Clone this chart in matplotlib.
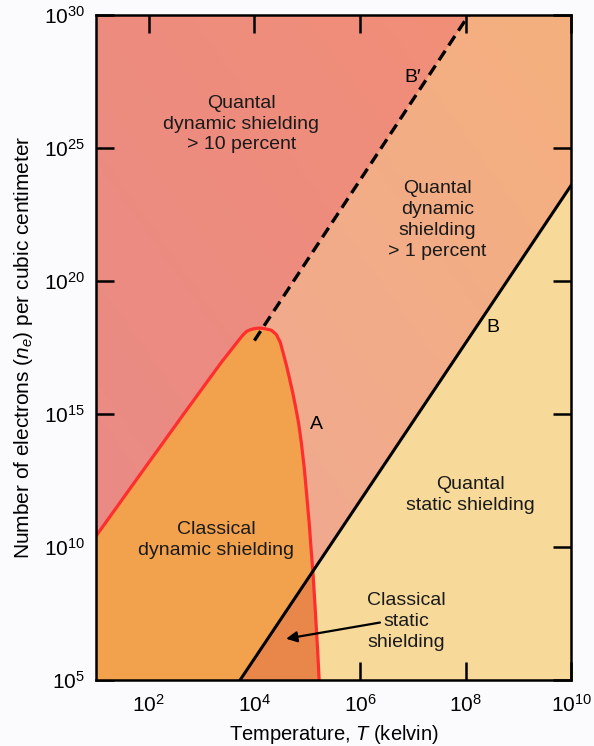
import matplotlib.pyplot as plt
import numpy as np
from matplotlib.patches import Polygon
from matplotlib.colors import to_rgb

# curve A (log10 T, log10 n_e)
a_logT = [1.0, 1.736, 2.679, 3.377, 3.698, 3.774, 3.849, 3.925, 4.0, 4.094, 4.189,
          4.321, 4.415, 4.491, 4.547, 4.604, 4.660, 4.726, 4.792, 4.840, 4.887,
          4.943, 4.991, 5.038, 5.075, 5.113, 5.142, 5.170, 5.198, 5.226]
a_logn = [10.41, 12.45, 15.05, 16.95, 17.76, 17.95, 18.10, 18.17, 18.21, 18.23, 18.21,
          18.15, 17.99, 17.69, 17.28, 16.85, 16.38, 15.80, 15.15, 14.62, 13.95,
          13.00, 11.95, 10.90, 9.90, 8.92, 7.99, 7.05, 6.12, 5.0]

# line B (solid) and B' (dashed), endpoints
b_T = [10**3.73, 1e10]
b_n = [1e5, 10**23.6]
bp_T = [10**4.0, 10**8.06]
bp_n = [10**17.76, 1e30]

xlim = (1e1, 1e10)
ylim = (1e5, 1e30)

YELLOW = '#F7D99A'
ORANGE = '#F2A24C'
DARK_OR = '#E9874A'
RED = '#FF2E2E'

plt.rcParams['font.family'] = ['Liberation Sans', 'DejaVu Sans']
plt.rcParams['mathtext.fontset'] = 'custom'
plt.rcParams['mathtext.rm'] = 'Liberation Sans'
plt.rcParams['mathtext.it'] = 'Liberation Sans:italic'

fig = plt.figure(figsize=(5.94, 7.46), dpi=100)
fig.patch.set_facecolor('#FBFBFD')
ax = fig.add_axes([0.1616, 0.0885, 0.8, 0.8914])
ax.set_xscale('log')
ax.set_yscale('log')
ax.set_xlim(*xlim)
ax.set_ylim(*ylim)


def gradient(c_top_right, c_bottom_left):
    u = np.linspace(0, 1, 200)
    xx, yy = np.meshgrid(u, u)
    t = ((xx + yy) / 2)[..., None]
    a, b = np.array(to_rgb(c_top_right)), np.array(to_rgb(c_bottom_left))
    return b + (a - b) * t


aT = 10**np.array(a_logT)
an = 10**np.array(a_logn)

# quantal dynamic > 1 percent: background with a soft gradient
ax.imshow(gradient('#F5B07E', '#EEA697'), extent=(0, 1, 0, 1), origin='lower',
          transform=ax.transAxes, aspect='auto', zorder=0.5, interpolation='bilinear')

# everything left of B' (extended down with the same slope) is salmon
slope = (np.log10(bp_n[1]) - np.log10(bp_n[0])) / (np.log10(bp_T[1]) - np.log10(bp_T[0]))
bp_bottom_T = 10**(np.log10(bp_T[0]) - (np.log10(bp_n[0]) - 5) / slope)
left_bp = Polygon([(xlim[0], ylim[0]), (xlim[0], ylim[1]), (bp_T[1], bp_n[1]),
                   (bp_bottom_T, ylim[0])], closed=True, transform=ax.transData)
sal = ax.imshow(gradient('#F28F76', '#E88A88'), extent=(0, 1, 0, 1), origin='lower',
                transform=ax.transAxes, aspect='auto', zorder=1, interpolation='bilinear')
sal.set_clip_path(left_bp)

# right of B: quantal static
ax.add_patch(Polygon([(b_T[0], b_n[0]), (b_T[1], b_n[1]), (xlim[1], ylim[0])],
                     closed=True, facecolor=YELLOW, edgecolor='none', zorder=1))

# inside A: classical dynamic
inside = list(zip(aT, an)) + [(xlim[0], ylim[0])]
ax.add_patch(Polygon(inside, closed=True, facecolor=ORANGE, edgecolor='none', zorder=2))
# inside A and right of B: classical static
static = Polygon(inside, closed=True, facecolor=DARK_OR, edgecolor='none', zorder=3)
ax.add_patch(static)
clip = Polygon([(b_T[0], b_n[0]), (b_T[1], b_n[1]), (xlim[1], ylim[0])], closed=True,
               transform=ax.transData)
static.set_clip_path(clip)

ax.plot(aT, an, color=RED, lw=2.3, zorder=5, solid_joinstyle='round')
ax.plot(b_T, b_n, color='black', lw=2.2, zorder=6)
ax.plot(bp_T, bp_n, color='black', lw=2.4, ls=(0, (3.4, 1.9)), zorder=6)

# labels
fs = 14
ls = 1.3
tc = '#1a1a1a'
ax.text(10**3.75, 10**25.9, 'Quantal\ndynamic shielding\n> 10 percent', ha='center',
        va='center', fontsize=fs, linespacing=ls, zorder=7, color=tc)
ax.text(10**7.0, 10**27.65, "B\u2032", ha='center', va='center', fontsize=fs, zorder=7)
ax.text(10**7.47, 10**22.3, 'Quantal\ndynamic\nshielding\n> 1 percent', ha='center',
        va='center', fontsize=fs, linespacing=ls, zorder=7, color=tc)
ax.text(10**8.51, 10**18.25, 'B', ha='center', va='center', fontsize=fs, zorder=7)
ax.text(10**5.17, 10**14.59, 'A', ha='center', va='center', fontsize=fs, zorder=7)
ax.text(10**8.09, 10**11.95, 'Quantal\nstatic shielding', ha='center', va='center',
        fontsize=fs, linespacing=ls, zorder=7, color=tc)
ax.text(10**3.28, 10**10.25, 'Classical\ndynamic shielding', ha='center', va='center',
        fontsize=fs, linespacing=ls, zorder=7, color=tc)
ax.text(10**6.87, 10**7.2, 'Classical\nstatic\nshielding', ha='center', va='center',
        fontsize=fs, linespacing=ls, zorder=7, color=tc)
ax.annotate('', xy=(10**4.6, 10**6.55), xytext=(10**6.38, 10**7.16),
            arrowprops=dict(arrowstyle='-|>', color='black', lw=1.6,
                            mutation_scale=16, shrinkA=0, shrinkB=0), zorder=7)

ax.set_xticks([1e2, 1e4, 1e6, 1e8, 1e10])
ax.set_yticks([1e5, 1e10, 1e15, 1e20, 1e25, 1e30])
ax.minorticks_off()
ax.tick_params(which='major', direction='in', length=13, width=1.8, top=True,
               right=True, labelsize=15, pad=10, zorder=8)
ax.tick_params(axis='y', pad=8)
ax.set_xticklabels(['$10^{2}$', '$10^{4}$', '$10^{6}$', '$10^{8}$', '$10^{10}$'])
ax.set_yticklabels(['$10^{5}$', '$10^{10}$', '$10^{15}$', '$10^{20}$', '$10^{25}$', '$10^{30}$'])
for s in ax.spines.values():
    s.set_linewidth(1.8)
    s.set_zorder(9)

ax.set_xlabel('Temperature, $T$ (kelvin)', fontsize=14.5, labelpad=5)
ax.set_ylabel('Number of electrons ($n_e$) per cubic centimeter', fontsize=15, labelpad=6)

fig.savefig('out.png', dpi=100, facecolor=fig.get_facecolor())
